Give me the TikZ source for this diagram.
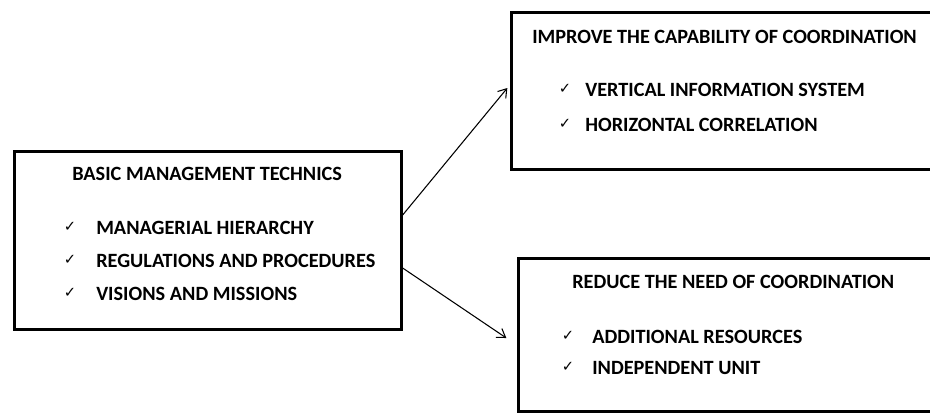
\documentclass[tikz,border=0pt]{standalone}
\usepackage{fontspec}
\setmainfont{Carlito}
\newfontfamily\symfont{DejaVu Sans}
\usetikzlibrary{arrows.meta}
\tikzset{
  box/.style={draw=black, line width=2pt, fill=white, inner sep=0pt, anchor=north west},
  title/.style={anchor=west, inner sep=0pt, font=\bfseries\fontsize{15.2}{17}\selectfont},
  item/.style={anchor=west, inner sep=0pt, font=\bfseries\fontsize{15.2}{17}\selectfont},
  tick/.style={anchor=center, inner sep=0pt, font=\symfont\fontsize{11}{13}\selectfont},
  link/.style={draw=black, line width=0.8pt, -{Straight Barb[length=6pt,width=8pt,line width=0.8pt]}}
}
\begin{document}
\begin{tikzpicture}[x=0.75pt, y=-0.75pt]
  \useasboundingbox (0,0) rectangle (930,412);
  \clip (0,0) rectangle (930,412);
  \fill[white] (0,0) rectangle (930,412);

  % source box
  \node[box, minimum width=290.25pt, minimum height=133.5pt] (lb) at (13,150) {};
  \node[title] (lt) at (72,174) {BASIC MANAGEMENT TECHNICS};
  \node[tick] (lc1) at (70,227) {✓};
  \node[item] (l1) at (96,228) {MANAGERIAL HIERARCHY};
  \node[tick] (lc2) at (70,260) {✓};
  \node[item] (l2) at (96,261) {REGULATIONS AND PROCEDURES};
  \node[tick] (lc3) at (70,293) {✓};
  \node[item] (l3) at (96,294) {VISIONS AND MISSIONS};

  % upper target box
  \node[box, minimum width=337.5pt, minimum height=117.75pt] (tr) at (510,11) {};
  \node[title] (tt) at (532,37) {IMPROVE THE CAPABILITY OF COORDINATION};
  \node[tick] (tc1) at (565,89) {✓};
  \node[item] (t1) at (585,90) {VERTICAL INFORMATION SYSTEM};
  \node[tick] (tc2) at (565,124) {✓};
  \node[item] (t2) at (585,125) {HORIZONTAL CORRELATION};

  % lower target box
  \node[box, minimum width=332.25pt, minimum height=114.75pt] (br) at (517,257) {};
  \node[title] (bt) at (572,282) {REDUCE THE NEED OF COORDINATION};
  \node[tick] (bc1) at (568,336) {✓};
  \node[item] (b1) at (592,337) {ADDITIONAL RESOURCES};
  \node[tick] (bc2) at (568,367) {✓};
  \node[item] (b2) at (592,368) {INDEPENDENT UNIT};

  % connectors
  \draw[link] (lb.east |- 0,215) -- ([xshift=-2pt]tr.west |- 0,88);
  \draw[link] (lb.east |- 0,268) -- ([xshift=-8pt]br.west |- 0,338);
\end{tikzpicture}
\end{document}
